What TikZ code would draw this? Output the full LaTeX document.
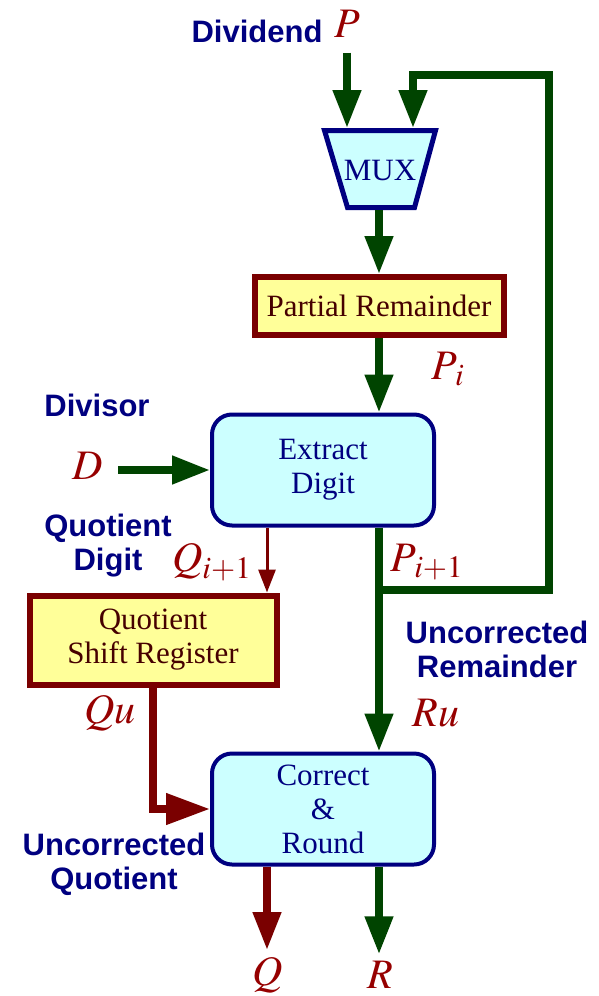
\documentclass[tikz,border=0pt]{standalone}
\usepackage{mathptmx}
\usepackage[no-math]{fontspec}
\setmainfont{Liberation Serif}\setsansfont{Liberation Sans}
\usetikzlibrary{arrows.meta}
\definecolor{nv}{RGB}{0,0,128}
\definecolor{gc}{RGB}{0,68,0}
\definecolor{dr}{RGB}{122,0,0}
\definecolor{lr}{RGB}{150,0,0}
\definecolor{tr}{RGB}{70,0,0}
\definecolor{cy}{RGB}{204,255,255}
\definecolor{yc}{RGB}{255,255,153}
\newcommand\boxfont{\fontsize{15.5}{17}\selectfont}
\tikzset{blk/.style={draw=nv,fill=cy,line width=2pt,rounded corners=10pt,minimum width=111pt,minimum height=55.5pt,
   align=center,text=nv,font=\boxfont},
 reg/.style={draw=dr,fill=yc,line width=3pt,align=center,text=tr,font=\boxfont},
 mxb/.style={draw=nv,fill=cy,line width=2.5pt,line join=miter},mxt/.style={text=nv,font=\boxfont,inner sep=0pt},
 lab/.style={text=nv,font=\sffamily\bfseries\boxfont,align=center},
 sig/.style={text=lr,font=\fontsize{21}{24}\selectfont},
 gw/.style={draw=gc,line width=3.8pt},garr/.style={gw,-{Triangle[length=19pt,width=13.5pt]}},
 rw/.style={draw=dr,line width=3.8pt},rarr/.style={rw,-{Triangle[length=19pt,width=13.5pt]}},
 thin/.style={draw=dr,line width=1.5pt,-{Triangle[length=11.5pt,width=8.5pt]}}}
\begin{document}
\begin{tikzpicture}[x=0.5pt,y=-0.5pt]
\useasboundingbox (0,0) rectangle (599,996);
% blocks
\draw[mxb] (324.5,130.5) -- (435.5,130.5) -- (414.5,207.5) -- (347.5,207.5) -- cycle;
\node[mxt] (mux) at (380,170) {MUX};
\coordinate (mt) at (380,128);\coordinate (mb) at (380,210);
\node[reg,minimum width=124.5pt,minimum height=29pt] (pr) at (379,306) {Partial Remainder};
\node[blk] (ed) at (323,470) {Extract\\Digit};
\node[reg,minimum width=123.5pt,minimum height=44.5pt] (qsr) at (153,640) {Quotient\\Shift Register};
\node[blk] (cr) at (323,809) {Correct\\\&\\Round};
% labels
\node[lab] (dvd) at (257,31) {Dividend};\node[sig] (p) at (347,24) {$P$};
\node[lab] (dvs) at (97,405) {Divisor};\node[sig] (d) at (88,466) {$D$};
\node[lab] (qd) at (108,546) {Quotient\\Digit};
\node[lab] (ur) at (497,649) {Uncorrected\\Remainder};
\node[lab] (uq) at (114,864) {Uncorrected\\Quotient};
\node[sig] (pi) at (448,369) {$P_{\,i}$};
\node[sig] (qi) at (212,562) {$Q_{i+1}$};
\node[sig] (pj) at (427,562) {$P_{\,i+1}$};
\node[sig] (qu) at (110,713) {$Qu$};\node[sig] (ru) at (436,713) {$Ru$};
\node[sig] (q) at (268,975) {$Q$};\node[sig] (r) at (380,975) {$R$};
% wires
\coordinate (j) at (379,590);\coordinate (fb) at (549,75);
\draw[garr] ([yshift=-4pt]p.south) -- (p.south |- mt);
\draw[garr] (j) -| (fb) -| ([xshift=16.5pt]mt);
\draw[garr] (mb -| pr.north) -- (pr.north);
\draw[garr] (pr.south) -- (pr.south |- ed.north);
\draw[garr] ([xshift=4pt]d.east |- ed.west) -- (ed.west);
\draw[thin] (ed.south -| 267,0) -- (qsr.north -| 267,0);
\draw[garr] (ed.south -| j) -- (cr.north -| j);
\draw[rarr,-{Triangle[length=22pt,width=15pt]}] (qsr.south) |- (cr.west);
\draw[rarr] (cr.south -| 267,0) -- (q.north -| 267,0);
\draw[garr] (cr.south -| j) -- (r.north -| j);
\end{tikzpicture}
\end{document}
